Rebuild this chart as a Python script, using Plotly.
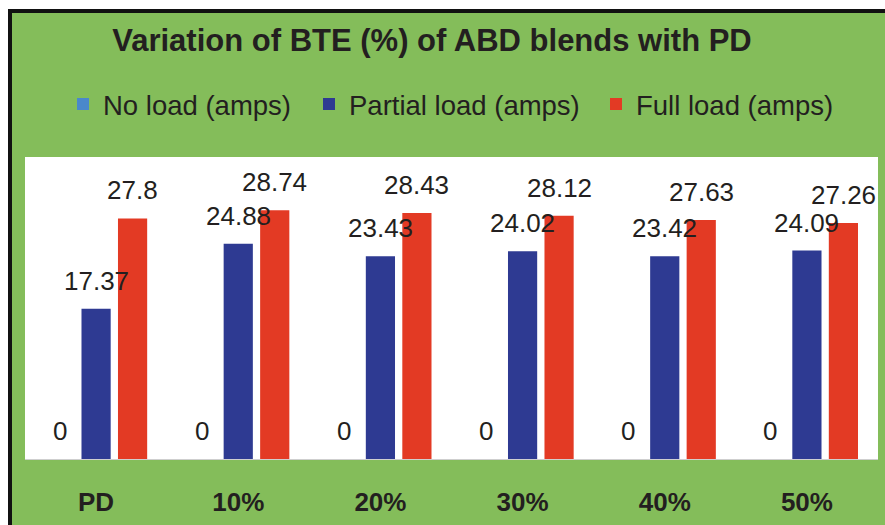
import plotly.graph_objects as go

# Blend categories and brake thermal efficiency readings
categories = ["PD", "10%", "20%", "30%", "40%", "50%"]
no_load = [0, 0, 0, 0, 0, 0]
partial_load = [17.37, 24.88, 23.43, 24.02, 23.42, 24.09]
full_load = [27.8, 28.74, 28.43, 28.12, 27.63, 27.26]

series_names = ["No load (amps)", "Partial load (amps)", "Full load (amps)"]
series_colors = ["#4a88cb", "#2e3a92", "#e33a24"]
series_values = [no_load, partial_load, full_load]

FONT = "Liberation Sans, Arial, sans-serif"
GREEN = "#84bd5a"
TEXT = "#231f20"

W, H = 885, 525
ML, MR, MT, MB = 25, 7, 157, 66
PW, PH = W - ML - MR, H - MT - MB

BARGAP = 0.23
GROUPGAP = 0.2


def px_x(px):
    return (px - ML) / PW


def px_y(py):
    return (H - MB - py) / PH


legend_ids = ["legend", "legend2", "legend3"]
legend_left = [63, 309, 596]

fig = go.Figure()
for name, color, vals, lid in zip(series_names, series_colors, series_values, legend_ids):
    fig.add_trace(go.Bar(
        x=categories, y=vals, name=name, legend=lid,
        marker=dict(color=color, line=dict(width=0)),
    ))

# value labels sit above each bar slot of the grouped layout
slot = (1 - BARGAP) / len(series_values)
annotations = []
for s, vals in enumerate(series_values):
    off = (s - (len(series_values) - 1) / 2) * slot
    for i, v in enumerate(vals):
        annotations.append(dict(
            x=i + off, y=v, xref="x", yref="y",
            text=f"{v:g}", showarrow=False,
            yanchor="middle", yshift=28,
            font=dict(family=FONT, size=26, color=TEXT),
        ))

# outer frame: white margin, black edge on top and left
shapes = [
    dict(type="rect", xref="paper", yref="paper", x0=px_x(-50), x1=px_x(8),
         y0=px_y(H + 50), y1=px_y(-50), fillcolor="white", line=dict(width=0), layer="below"),
    dict(type="rect", xref="paper", yref="paper", x0=px_x(-50), x1=px_x(W + 50),
         y0=px_y(9), y1=px_y(-50), fillcolor="white", line=dict(width=0), layer="below"),
    dict(type="rect", xref="paper", yref="paper", x0=px_x(8), x1=px_x(12),
         y0=px_y(H + 50), y1=px_y(9), fillcolor="#111111", line=dict(width=0), layer="below"),
    dict(type="rect", xref="paper", yref="paper", x0=px_x(8), x1=px_x(W + 50),
         y0=px_y(13), y1=px_y(9), fillcolor="#111111", line=dict(width=0), layer="below"),
]

legend_style = dict(
    orientation="h", xanchor="left", y=px_y(104), yanchor="middle",
    font=dict(family=FONT, size=27.5, color=TEXT), bgcolor="rgba(0,0,0,0)",
)

fig.update_layout(
    width=W, height=H,
    margin=dict(l=ML, r=MR, t=MT, b=MB, pad=0, autoexpand=False),
    paper_bgcolor=GREEN, plot_bgcolor="white",
    barmode="group", bargap=BARGAP, bargroupgap=GROUPGAP,
    title=dict(text="<b>Variation of BTE (%) of ABD blends with PD</b>",
               x=px_x(432), xanchor="center", xref="paper",
               y=1 - 40 / H, yanchor="middle",
               font=dict(family=FONT, size=31, color=TEXT)),
    legend=dict(x=px_x(legend_left[0]), **legend_style),
    legend2=dict(x=px_x(legend_left[1]), **legend_style),
    legend3=dict(x=px_x(legend_left[2]), **legend_style),
    xaxis=dict(showgrid=False, zeroline=False, showline=True, linecolor="#cfcfcf",
               linewidth=1, ticks="", ticklabelstandoff=20, automargin=False,
               tickfont=dict(family=FONT, size=26, color=TEXT), tickprefix="<b>",
               ticksuffix="</b>"),
    yaxis=dict(range=[0, 34.9], visible=False, showgrid=False, automargin=False),
    annotations=annotations,
    shapes=shapes,
    showlegend=True,
)

fig.write_html("out.html")
